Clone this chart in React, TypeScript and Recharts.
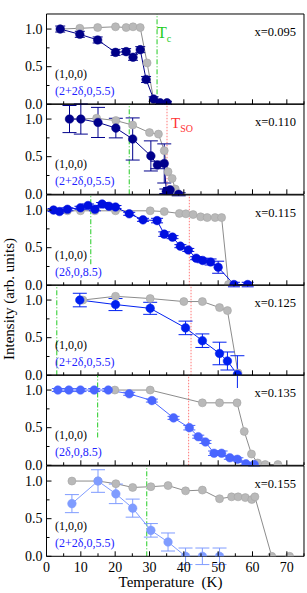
import React from 'react'
import { LineChart, Line, XAxis, YAxis, ReferenceLine, ErrorBar } from 'recharts'

// [temperature, intensity, error]
type Pt = [number, number, number?]

// x = 0.095
const gray095: Pt[] = [[4, 1.0], [9.7, 1.01], [14.9, 1.02], [20.1, 1.03], [23.2, 1.02], [25.2, 1.03], [27.3, 1.02], [29.3, 0.55], [31.2, 0.06], [33.1, 0.02], [35.1, 0.02]]
const blue095: Pt[] = [[4, 1.0, 0.04], [9.7, 0.93, 0.04], [14.9, 0.855, 0.04], [20.1, 0.69, 0.04], [23.2, 0.7, 0.04], [25.2, 0.625, 0.04], [27.3, 0.726, 0.04], [29, 0.33, 0.04], [31.2, 0.07, 0.03], [33.1, 0.02, 0.02], [35.1, 0.02, 0.02]]

// x = 0.110
const gray110: Pt[] = [[6.7, 1.0], [10, 1.0], [14.6, 1.01], [20.2, 0.98], [25.1, 0.92], [30, 0.82], [32.6, 0.8], [34.3, 0.58], [35.4, 0.3], [36.6, 0.21], [37.5, 0.07]]
const blue110: Pt[] = [[6.7, 1.0, 0.18], [10, 1.0, 0.2], [15, 0.955, 0.2], [20.2, 0.88, 0.13], [25.1, 0.735, 0.28], [30.4, 0.51, 0.2], [32.3, 0.39, 0.05], [34.3, 0.41, 0.26], [34.9, 0.04, 0.03], [36, 0.06, 0.03], [38.5, 0.0, 0.02]]

// x = 0.115
const gray115: Pt[] = [[2.05, 1.0], [6.1, 0.99], [9.9, 0.99], [14.1, 0.99], [20.1, 0.99], [30.2, 0.99], [34.3, 0.98], [38.7, 0.955], [40.6, 0.95], [42.7, 0.94], [44.9, 0.91], [46.8, 0.9], [49.1, 0.9], [51, 0.9], [53, 0.01]]
const blue115: Pt[] = [[2.05, 1.0, 0.02], [3.8, 0.98, 0.02], [6.1, 1.01, 0.02], [9.9, 1.03, 0.02], [12.1, 1.06, 0.02], [14.1, 1.01, 0.02], [16.2, 1.08, 0.02], [18.2, 1.05, 0.02], [20.1, 1.04, 0.02], [24.1, 0.95, 0.02], [28.1, 0.87, 0.02], [32.2, 0.86, 0.03], [34.3, 0.68, 0.03], [36.7, 0.64, 0.02], [39, 0.52, 0.02], [41.3, 0.47, 0.02], [43.6, 0.36, 0.02], [45.5, 0.33, 0.03], [47.8, 0.31, 0.04], [50, 0.24, 0.08], [54.6, 0.01, 0.03], [58.6, 0.01, 0.03]]

// x = 0.125
const gray125: Pt[] = [[10.6, 1.0], [20.1, 1.05], [30.2, 1.02], [40, 0.98], [45.4, 0.98], [50.4, 0.9], [52.7, 0.86], [55.8, 0.03]]
const blue125: Pt[] = [[9.7, 1.0, 0.09], [20.1, 0.94, 0.08], [30.2, 0.89, 0.08], [40.5, 0.63, 0.09], [45.4, 0.46, 0.09], [50.4, 0.29, 0.15], [52.7, 0.19, 0.12], [55.6, 0.01, 0.25]]

// x = 0.135
const gray135: Pt[] = [[19.9, 1.0], [30.2, 1.0], [45.4, 0.83], [50.4, 0.83], [55.5, 0.83], [57.6, 0.45], [59.7, 0.15], [61.5, 0.03], [63.7, 0.01], [67.4, 0.01]]
const blue135: Pt[] = [[3.3, 1.0, 0.02], [6.5, 1.0, 0.02], [9.9, 1.0, 0.02], [13.9, 1.0, 0.02], [18, 1.0, 0.02], [24.1, 0.95, 0.02], [30.7, 0.86, 0.02], [37, 0.63, 0.02], [41.6, 0.5, 0.03], [44.2, 0.38, 0.02], [46.3, 0.31, 0.02], [48.8, 0.16, 0.03], [51, 0.16, 0.03], [53.4, 0.1, 0.02], [55.6, 0.08, 0.02], [58.1, 0.02, 0.02], [60.5, 0.01, 0.02]]

// x = 0.155
const gray155: Pt[] = [[7.4, 1.0], [15, 1.0], [20.2, 0.965], [25.1, 0.915], [30.4, 0.925], [35.4, 0.94], [40.5, 0.87], [45.4, 0.88], [50.4, 0.765], [53.9, 0.79], [55.8, 0.79], [57.9, 0.78], [59.8, 0.755], [60.7, 0.79], [65.6, 0], [70.8, 0]]
const blue155: Pt[] = [[7.4, 0.7, 0.12], [15, 1.0, 0.15], [20.2, 0.83, 0.13], [25.1, 0.64, 0.12], [30.4, 0.345, 0.09], [35.4, 0.19, 0.12], [40.5, 0, 0.11], [45.4, 0, 0.11], [50.4, 0, 0.11]]

const dopings = ['x=0.095', 'x=0.110', 'x=0.115', 'x=0.125', 'x=0.135', 'x=0.155']
const peaks = ['(2+2δ,0,5.5)', '(2+2δ,0,5.5)', '(2δ,0,8.5)', '(2+2δ,0,5.5)', '(2δ,0,8.5)', '(2+2δ,0,5.5)']
// green dash-dot line: [T, lower end of the line]
const tcLines: [number, number][] = [[32.2, 0], [24.1, 0], [12.9, 0.28], [3.0, 0], [14.9, 0.37], [29.2, 0]]
// red dotted line (T_SO), null if none
const tsoLines: (number | null)[] = [null, 35.1, 41.6, 42.1, 41.4, null]

const tempTicks = [0, 5, 10, 15, 20, 25, 30, 35, 40, 45, 50, 55, 60, 65, 70, 75]
const intensityTicks = [0, 0.25, 0.5, 0.75, 1.0]

const panels = [
  { gray: gray095, blue: blue095, color: '#000088', cap: 5 },
  { gray: gray110, blue: blue110, color: '#00008c', cap: 7 },
  { gray: gray115, blue: blue115, color: '#0010e0', cap: 6 },
  { gray: gray125, blue: blue125, color: '#0020f0', cap: 7 },
  { gray: gray135, blue: blue135, color: '#4a66ff', cap: 6 },
  { gray: gray155, blue: blue155, color: '#7f9cff', cap: 7 },
]

const W = 307
const TOP = 14
const PH = 90.3
const PAD = 12
const LEFT = 45.5
const RIGHT = 2
const FONT = '"Liberation Serif", "DejaVu Serif", serif'

const rows = (pts: Pt[]) => pts.map(([t, v, e]) => ({ t, v, e: e ?? 0 }))

const len = (major: boolean) => (major ? 5 : 3)

function App() {
  return (
    <div style={{ position: 'absolute', left: 0, top: 0, width: W, height: 593, background: '#fff', fontFamily: FONT }}>
      {panels.map((p, i) => {
        const first = i === 0
        const last = i === panels.length - 1
        const padTop = first ? TOP : PAD
        const padBottom = last ? 37 : PAD
        const plotTop = TOP + i * PH
        const h = padTop + 1 + PH + 1 + padBottom
        const [tc, tcFrom] = tcLines[i]
        const tso = tsoLines[i]
        return (
          <div key={i} style={{ position: 'absolute', left: 0, top: plotTop - padTop - 1 }}>
            <LineChart width={W} height={h} margin={{ top: padTop, right: RIGHT, bottom: padBottom, left: LEFT }}>
              <XAxis
                xAxisId="b" type="number" dataKey="t" domain={[0, 75]} ticks={tempTicks} interval={0}
                height={1} tickSize={0} tickMargin={0} tickLine={false} axisLine={{ stroke: '#000' }}
                tick={(tp: any) => {
                  const v = tp.payload.value
                  const major = v % 10 === 0
                  return (
                    <g>
                      <line x1={tp.x} x2={tp.x} y1={tp.y} y2={tp.y - len(major)} stroke="#000" />
                      {last && major && v <= 70 && (
                        <text x={tp.x} y={tp.y + 15.5} textAnchor="middle" fontSize={14} fontFamily={FONT} fill="#000">{v}</text>
                      )}
                    </g>
                  )
                }}
              />
              <XAxis
                xAxisId="t" orientation="top" type="number" dataKey="t" domain={[0, 75]} ticks={tempTicks} interval={0}
                height={1} tickSize={0} tickMargin={0} tickLine={false} axisLine={{ stroke: '#000' }}
                tick={(tp: any) => {
                  const v = tp.payload.value
                  const major = v % 10 === 0
                  return (
                    <g>
                      <line x1={tp.x} x2={tp.x} y1={tp.y} y2={tp.y + len(major)} stroke="#000" />
                      {first && major && v <= 70 && (
                        <text x={tp.x} y={tp.y - 3.5} textAnchor="middle" fontSize={14} fontFamily={FONT} fill="#000">{v}</text>
                      )}
                    </g>
                  )
                }}
              />
              <YAxis
                yAxisId="l" type="number" domain={[0, 1.2]} ticks={intensityTicks} interval={0} allowDataOverflow
                width={1} tickSize={0} tickMargin={0} tickLine={false} axisLine={{ stroke: '#000' }}
                tick={(tp: any) => {
                  const v = tp.payload.value
                  const major = Math.abs(v * 2 - Math.round(v * 2)) < 1e-6
                  return (
                    <g>
                      <line x1={tp.x} x2={tp.x + len(major)} y1={tp.y} y2={tp.y} stroke="#000" />
                      {major && (
                        <text x={tp.x - 4} y={tp.y + 4.8} textAnchor="end" fontSize={14} fontFamily={FONT} fill="#000">{v.toFixed(1)}</text>
                      )}
                    </g>
                  )
                }}
              />
              <YAxis
                yAxisId="r" orientation="right" type="number" domain={[0, 1.2]} ticks={intensityTicks} interval={0}
                width={1} tickSize={0} tickMargin={0} tickLine={false} axisLine={{ stroke: '#000' }}
                tick={(tp: any) => {
                  const v = tp.payload.value
                  const major = Math.abs(v * 2 - Math.round(v * 2)) < 1e-6
                  return <line x1={tp.x} x2={tp.x - len(major)} y1={tp.y} y2={tp.y} stroke="#000" />
                }}
              />
              <ReferenceLine
                xAxisId="b" yAxisId="l" segment={[{ x: tc, y: tcFrom }, { x: tc, y: 1.2 }]}
                stroke="#22cc22" strokeWidth={1} strokeDasharray="5 2 1 2"
              />
              {tso !== null && (
                <ReferenceLine xAxisId="b" yAxisId="l" x={tso} stroke="#ff7777" strokeWidth={1} strokeDasharray="1.5 1.5" />
              )}
              <Line
                xAxisId="b" yAxisId="l" data={rows(p.gray)} dataKey="v" type="linear"
                stroke="#8c8c8c" strokeWidth={1}
                dot={{ r: 4, fill: '#b9b9b9', stroke: '#a5a5a5', strokeWidth: 0.6 }}
                isAnimationActive={false}
              />
              <Line
                xAxisId="b" yAxisId="l" data={rows(p.blue)} dataKey="v" type="linear"
                stroke={p.color} strokeWidth={1}
                dot={{ r: 4.3, fill: p.color, stroke: p.color, strokeWidth: 0.5 }}
                isAnimationActive={false}
              >
                <ErrorBar dataKey="e" direction="y" width={p.cap} stroke={p.color} strokeWidth={1} isAnimationActive={false} />
              </Line>
            </LineChart>
          </div>
        )
      })}
      <svg width={W} height={593} style={{ position: 'absolute', left: 0, top: 0, pointerEvents: 'none' }}>
        {panels.map((_, i) => {
          const top = TOP + i * PH
          return (
            <g key={i} fontFamily={FONT}>
              <text x={296} y={top + 22} textAnchor="end" fontSize={12.5} fill="#000">{dopings[i]}</text>
              <text x={55} y={top + 64} fontSize={12} fill="#000">(1,0,0)</text>
              <text x={55} y={top + 81} fontSize={12} fill="#2222ff">{peaks[i]}</text>
            </g>
          )
        })}
        <text x={157} y={TOP + 24} fontSize={16} fill="#22cc22" fontFamily={FONT}>
          T<tspan fontSize={10} dy={4}>c</tspan>
        </text>
        <text x={171} y={TOP + PH + 24} fontSize={15} fill="#ff3333" fontFamily={FONT}>
          T<tspan fontSize={10} dy={4}>SO</tspan>
        </text>
        <text
          x={0} y={0} fontSize={15} fill="#000" fontFamily={FONT} textAnchor="middle"
          transform="translate(13.5 299) rotate(-90)"
        >Intensity (arb. units)</text>
        <text x={170.5} y={587} fontSize={15} fill="#000" fontFamily={FONT} textAnchor="middle" xmlSpace="preserve">Temperature  (K)</text>
      </svg>
    </div>
  )
}

export default App
